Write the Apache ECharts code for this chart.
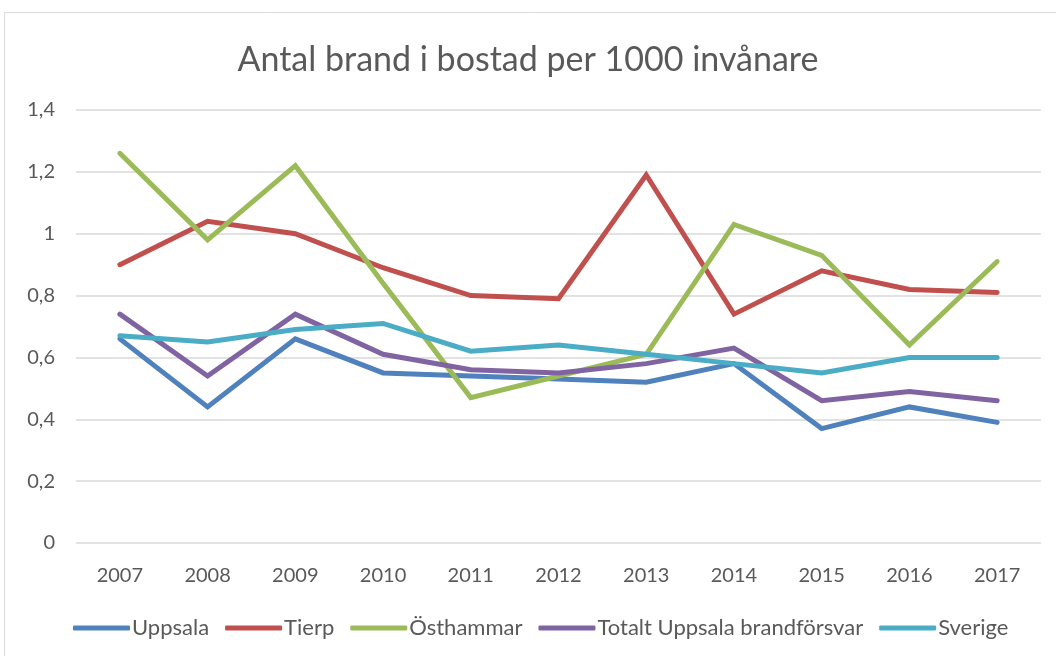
<!DOCTYPE html>
<html>
<head>
<meta charset="utf-8">
<script src="https://cdn.jsdelivr.net/npm/echarts@6/dist/echarts.min.js"></script>
<style>
  html, body { margin: 0; padding: 0; background: #fff; }
  #chart { width: 1056px; height: 656px; }
</style>
</head>
<body>
<div id="chart"></div>
<script>
// Fires in dwellings per 1000 inhabitants, 2007-2017
const years = ['2007', '2008', '2009', '2010', '2011', '2012', '2013', '2014', '2015', '2016', '2017'];
const uppsala    = [0.66, 0.44, 0.66, 0.55, 0.54, 0.53, 0.52, 0.58, 0.37, 0.44, 0.39];
const tierp      = [0.90, 1.04, 1.00, 0.89, 0.80, 0.79, 1.19, 0.74, 0.88, 0.82, 0.81];
const osthammar  = [1.26, 0.98, 1.22, 0.84, 0.47, 0.54, 0.61, 1.03, 0.93, 0.64, 0.91];
const totalt     = [0.74, 0.54, 0.74, 0.61, 0.56, 0.55, 0.58, 0.63, 0.46, 0.49, 0.46];
const sverige    = [0.67, 0.65, 0.69, 0.71, 0.62, 0.64, 0.61, 0.58, 0.55, 0.60, 0.60];

const seriesDefs = [
  { name: 'Uppsala', data: uppsala, color: '#4F81BD' },
  { name: 'Tierp', data: tierp, color: '#C0504D' },
  { name: 'Östhammar', data: osthammar, color: '#9BBB59' },
  { name: 'Totalt Uppsala brandförsvar', data: totalt, color: '#8064A2' },
  { name: 'Sverige', data: sverige, color: '#4BACC6' }
];

const font = 'Lato, "Open Sans", sans-serif';
const textColor = '#595959';

const chart = echarts.init(document.getElementById('chart'));
chart.setOption({
  animation: false,
  backgroundColor: '#fff',
  textStyle: { fontFamily: font },
  graphic: [{
    type: 'rect',
    shape: { x: 4.5, y: 12.5, width: 1060, height: 660 },
    style: { fill: 'none', stroke: '#d9d9d9', lineWidth: 1 },
    silent: true
  }],
  title: {
    text: 'Antal brand i bostad per 1000 invånare',
    left: 'center',
    top: 38,
    textStyle: { fontFamily: font, fontSize: 34, fontWeight: 'normal', color: textColor }
  },
  legend: {
    bottom: 12,
    left: 68,
    itemWidth: 57,
    itemHeight: 5,
    itemGap: 16,
    icon: 'roundRect',
    textStyle: { fontFamily: font, fontSize: 22, color: textColor, padding: [0, 0, 0, -3] },
    data: seriesDefs.map(s => s.name)
  },
  grid: { left: 76, right: 15, top: 110, bottom: 113, containLabel: false },
  xAxis: {
    type: 'category',
    data: years,
    boundaryGap: true,
    axisLine: { show: false },
    axisTick: { show: false },
    axisLabel: { fontFamily: font, fontSize: 20, color: textColor, margin: 23 }
  },
  yAxis: {
    type: 'value',
    min: 0,
    max: 1.4,
    interval: 0.2,
    axisLine: { show: false },
    axisTick: { show: false },
    splitLine: { lineStyle: { color: '#d9d9d9', width: 1.5 } },
    axisLabel: {
      fontFamily: font, fontSize: 20, color: textColor, margin: 21,
      formatter: v => String(Math.round(v * 10) / 10).replace('.', ',')
    }
  },
  series: seriesDefs.map(s => ({
    name: s.name,
    type: 'line',
    data: s.data,
    color: s.color,
    symbol: 'none',
    lineStyle: { width: 5, color: s.color, cap: 'round', join: 'miter' },
    emphasis: { disabled: true }
  }))
});
</script>
</body>
</html>
